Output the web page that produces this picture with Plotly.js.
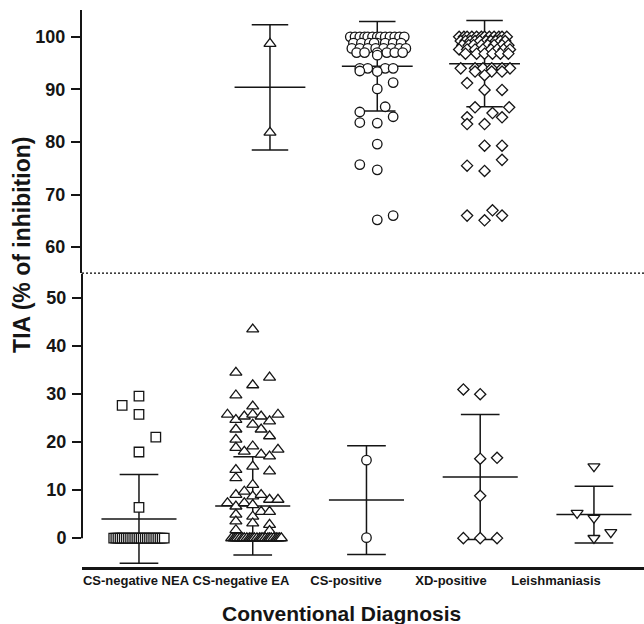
<!DOCTYPE html>
<html><head><meta charset="utf-8">
<script src="https://cdn.plot.ly/plotly-3.0.1.min.js"></script>
<style>html,body{margin:0;padding:0;background:#fff}#chart{width:644px;height:624px}</style>
</head><body><div id="chart"></div>
<script>
// ---- categories & labels ----
const categories = ['CS-negative NEA', 'CS-negative EA', 'CS-positive', 'XD-positive', 'Leishmaniasis'];
const lowTicks = [0, 10, 20, 30, 40, 50];
const highTicks = [60, 70, 80, 90, 100];
const cutoff = 55;

// ---- lower panel values (below cut-off) and column slots ----
const neaVals  = [27.6, 29.5, 25.7, 21.0, 17.9, 6.4,
  0,0,0,0,0,0,0,0,0,0,0,0,0,0,0,0,0,0,0,0,0,0,0,0,0];
const neaSlots = [-1, 0, 0, 1, 0, 0,
  -1.5,-1.375,-1.25,-1.125,-1,-0.875,-0.75,-0.625,-0.5,-0.375,-0.25,-0.125,0,0.125,0.25,0.375,0.5,0.625,0.75,0.875,1,1.125,1.25,1.375,1.5];

const eaVals  = [43.4, 34.4, 33.4, 31.8, 29.7, 27.4, 25.7, 24.6, 25.3, 25.7, 25.3, 24.3, 25.7,
  22.6, 23.6, 22.6, 21.2, 20.5, 19.1, 18.8, 18.0, 17.4, 17.0, 18.4, 14.9, 14.2, 12.5, 13.9,
  11.1, 9.0, 9.7, 8.7, 9.0, 8.0, 7.3, 8.0, 6.6, 7.3, 6.9, 5.5, 5.5, 4.9, 4.5, 3.5, 3.1, 2.8, 1.7, 1.5,
  0,0,0,0,0,0,0,0,0,0,0,0,0,0,0,0,0,0,0,0,0,0,0,0,0];
const eaSlots = [0, -1, 1, 0, -1, 0, -1.5, -1, -0.5, 0, 0.5, 1, 1.5,
  -1, 0, 0.5, 1, -1, 0, -1, -0.5, 0.5, 1, 1.5, 0, -1, -1, 1,
  0, -1, -0.5, 0, 0.5, 1, -1.5, 1.5, -1, -0.5, 0, 0.5, 1, -1, 0, -1, 0, 1, -1, 1,
  -1.25,-1.1,-1,-0.9,-0.75,-0.6,-0.5,-0.35,-0.2,-0.1,0,0.1,0.25,0.4,0.5,0.6,0.75,0.9,1,1.1,1.25,1.4,1.5,1.6,1.7];

const csVals  = [16.2, 0.1];
const csSlots = [0, 0];

const xdVals  = [30.9, 29.9, 16.5, 16.7, 8.8, 0, 0, 0];
const xdSlots = [-1, 0, 0, 1, 0, -1, 0, 1];

const leishVals  = [14.9, 5.2, 4.2, 1.2, 0.0];
const leishSlots = [0, -1, 0, 1, 0];

// ---- upper panel values (above cut-off) ----
const eaHighVals  = [98.7, 81.8];
const eaHighSlots = [0, 0];

const csHighVals = [100,100,100,100,100,100,100,100,100,100,100,100,100,
  98.8,98.8,98.8,98.8,98.8,98.8,98.8,98.8,
  97.8,97.8,97.8,97.8,97.8,97.8,97.8,97.8,
  97.0,97.0,97.0,97.0,97.0,97.0, 96.5,
  94.0,94.0,94.0,94.0, 93.5, 93.4, 91.3, 90.1, 86.7, 85.7, 84.8, 83.7, 83.6, 79.6, 75.7, 74.7, 65.2, 66.0];
const csHighSlots = [-1.7,-1.4,-1.1,-0.8,-0.6,-0.3,0,0.2,0.5,0.8,1.1,1.4,1.7,
  -1.5,-1.0,-0.5,0,0.5,1.0,1.5,-0.2,
  -1.6,-1.1,-0.6,-0.1,0.4,0.9,1.4,1.8,
  -1.3,-0.8,0,0.6,1.1,1.6, 0,
  -1.1,-0.6,0.5,1.0, -1.1, 0, 1.0, 0, 0.5, -1.1, 1.0, -1.1, 0, 0, -1.1, 0, 0, 1.0];

const xdHighVals = [100,100,100,100,100,100,100,100,100,100,100,100,
  99.2,99.2,99.2,99.2,99.2,99.2,99.2,99.2,99.2,99.2,
  98.4,98.4,98.4,98.4,98.4,98.4,98.4,98.4,
  97.6,97.6,97.6,97.6,97.6,97.6,97.6,97.6,
  96.8,96.8,96.8,96.8,96.8,96.8,
  94.0,94.0,94.0,94.0,94.0,94.0, 93.4,93.4,93.4, 92.7, 91.2, 89.9,89.9, 86.6,86.6, 85.5,
  84.7,84.7, 83.4,83.4, 79.3,79.3, 76.6, 75.5, 74.5, 67.0, 66.0,66.0, 65.1];
const xdHighSlots = [-1.6,-1.3,-1.1,-0.8,-0.5,-0.2,0,0.3,0.6,0.9,1.1,1.4,
  -1.5,-1.2,-0.9,-0.6,-0.3,0.1,0.4,0.7,1.0,1.3,
  -1.4,-1.0,-0.7,-0.2,0.2,0.6,1.1,1.5,
  -1.6,-1.1,-0.6,-0.1,0.4,0.8,1.2,1.6,
  -1.2,-0.5,0,0.5,1.0,1.5,
  -1.5,-0.6,-0.1,0.45,1.1,1.6, -0.6,0.45,1.1, 0, -1.1, 0,1.1, -0.6,1.55, 0.5,
  -1.1,1.1, -1.1,0, 0,1.1, 1.1, -1.1, 0, 0.5, -1.1,1.1, 0];

// ---- means and SD ----
const lowMean  = [4.0, 6.7, 7.9, 12.7, 4.9];
const lowSD    = [9.2, 10.2, 11.3, 13.0, 5.9];
const highMean = [null, 90.4, 94.4, 94.9, null];
const highSD   = [null, 11.9, 8.5, 8.2, null];

// ---- build ----
const SLOT = 0.148, MEANW = 0.33, CAPW = 0.17;
const ink = '#151515';
function pts(idx, vals, slots) { return { x: slots.map(s => idx + s * SLOT), y: vals }; }
function bars(means, sds) {
  const x = [], y = [];
  means.forEach((m, i) => {
    if (m === null) return;
    const s = sds[i];
    x.push(i - MEANW, i + MEANW, null, i, i, null, i - CAPW, i + CAPW, null, i - CAPW, i + CAPW, null);
    y.push(m, m, null, m - s, m + s, null, m + s, m + s, null, m - s, m - s, null);
  });
  return { x, y };
}
function markerTrace(p, symbol, size, xa, ya) {
  return { type: 'scatter', mode: 'markers', x: p.x, y: p.y, xaxis: xa, yaxis: ya,
    marker: { symbol: symbol, size: size, color: '#ffffff', line: { color: ink, width: 1.3 } },
    hoverinfo: 'skip', showlegend: false, cliponaxis: false };
}
const lb = bars(lowMean, lowSD), hb = bars(highMean, highSD);
const traces = [
  { type: 'scatter', mode: 'lines', x: lb.x, y: lb.y, xaxis: 'x', yaxis: 'y', line: { color: ink, width: 1.5 }, hoverinfo: 'skip', showlegend: false },
  { type: 'scatter', mode: 'lines', x: hb.x, y: hb.y, xaxis: 'x2', yaxis: 'y2', line: { color: ink, width: 1.5 }, hoverinfo: 'skip', showlegend: false },
  markerTrace(pts(0, neaVals, neaSlots), 'square', 9.5, 'x', 'y'),
  markerTrace(pts(1, eaVals, eaSlots), 'triangle-up', 10.5, 'x', 'y'),
  markerTrace(pts(2, csVals, csSlots), 'circle', 9.5, 'x', 'y'),
  markerTrace(pts(3, xdVals, xdSlots), 'diamond', 8.6, 'x', 'y'),
  markerTrace(pts(4, leishVals, leishSlots), 'triangle-down', 10.5, 'x', 'y'),
  markerTrace(pts(1, eaHighVals, eaHighSlots), 'triangle-up', 10.5, 'x2', 'y2'),
  markerTrace(pts(2, csHighVals, csHighSlots), 'circle', 9.5, 'x2', 'y2'),
  markerTrace(pts(3, xdHighVals, xdHighSlots), 'diamond', 8.6, 'x2', 'y2'),
  { type: 'scatter', mode: 'markers', x: [0], y: [-100], xaxis: 'x3', yaxis: 'y', hoverinfo: 'skip', showlegend: false, marker: { opacity: 0 } }
];

const FONT = 'Liberation Sans, Arial, Helvetica, sans-serif';
const yCommon = { ticks: 'outside', ticklen: 9, tickwidth: 2, tickcolor: ink, showgrid: false, zeroline: false,
  tickfont: { family: FONT, size: 18, color: ink, weight: 'bold' }, ticklabelstandoff: 2 };
const layout = {
  width: 644, height: 624,
  margin: { l: 82, r: 0, t: 10, b: 57 },
  paper_bgcolor: '#ffffff', plot_bgcolor: '#ffffff',
  showlegend: false,
  xaxis: { domain: [0, 1], range: [-0.501, 4.44], anchor: 'y', showline: true, linewidth: 2.5, linecolor: ink,
    showticklabels: false, ticks: '', showgrid: false, zeroline: false, fixedrange: true },
  xaxis2: { domain: [0, 1], range: [-0.752, 4.486], anchor: 'y2', visible: false, fixedrange: true },
  xaxis3: { overlaying: 'x', anchor: 'y', range: [-0.514, 4.838], tickvals: [0, 1, 2, 3, 4], ticktext: categories,
    ticks: '', showline: false, showgrid: false, zeroline: false, side: 'bottom',
    tickfont: { family: FONT, size: 13, color: ink, weight: 'bold' }, ticklabelstandoff: 4, fixedrange: true },
  yaxis: Object.assign({ domain: [0, 0.527], range: [-6, 55], tickvals: lowTicks, anchor: 'x', showline: false }, yCommon),
  yaxis2: Object.assign({ domain: [0.527, 1], range: [55, 105.1], tickvals: highTicks, anchor: 'x2', showline: true, linewidth: 2, linecolor: ink }, yCommon),
  shapes: [
    { type: 'line', xref: 'paper', yref: 'y', x0: 0, x1: 0, y0: 0, y1: cutoff, line: { color: ink, width: 2 } },
    { type: 'line', xref: 'paper', yref: 'paper', x0: 0, x1: 1, y0: 0.5275, y1: 0.5275, line: { color: '#000000', width: 1.2, dash: '2px,2px' } }
  ],
  annotations: [
    { text: 'TIA (% of inhibition)', xref: 'paper', yref: 'paper', x: -0.107, y: 0.578, textangle: -90, showarrow: false,
      xanchor: 'center', yanchor: 'middle', font: { family: FONT, size: 23, color: ink, weight: 'bold' } },
    { text: 'Conventional Diagnosis', xref: 'paper', yref: 'paper', x: 0.4626, y: -0.0826, showarrow: false,
      xanchor: 'center', yanchor: 'middle', font: { family: FONT, size: 21, color: ink, weight: 'bold' } }
  ]
};
Plotly.newPlot('chart', traces, layout, { staticPlot: true, displayModeBar: false });
</script></body></html>
